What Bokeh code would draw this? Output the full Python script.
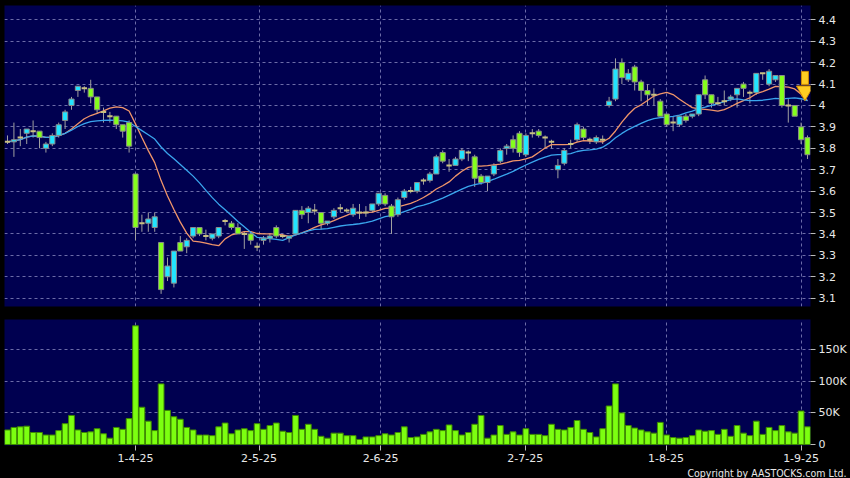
import numpy as np
import pandas as pd
from bokeh.plotting import figure
from bokeh.layouts import column
from bokeh.models import (ColumnDataSource, FixedTicker, Title, Range1d,
                          CustomJSTickFormatter, GlobalInlineStyleSheet)
from bokeh.embed import file_html
from bokeh.resources import INLINE

# ---------------- data ----------------
opens = [3.83, 3.83, 3.85, 3.87, 3.88, 3.88, 3.80, 3.82, 3.86, 3.93,
         4.00, 4.07, 4.08, 4.08, 4.04, 3.97, 3.95, 3.95, 3.91, 3.92,
         3.68, 3.45, 3.45, 3.43, 3.36, 3.20, 3.17, 3.36, 3.34, 3.39,
         3.43, 3.39, 3.38, 3.39, 3.46, 3.45, 3.43, 3.40, 3.40, 3.34,
         3.37, 3.38, 3.43, 3.39, 3.38, 3.40, 3.51, 3.50, 3.51, 3.50,
         3.45, 3.48, 3.52, 3.51, 3.49, 3.50, 3.50, 3.51, 3.54, 3.58,
         3.53, 3.49, 3.57, 3.60, 3.60, 3.65, 3.65, 3.68, 3.78, 3.72,
         3.72, 3.75, 3.78, 3.76, 3.67, 3.64, 3.68, 3.74, 3.80, 3.84,
         3.87, 3.77, 3.87, 3.88, 3.85, 3.83, 3.70, 3.73, 3.82, 3.84,
         3.89, 3.84, 3.83, 3.84, 4.00, 4.03, 4.20, 4.12, 4.18, 4.11,
         4.07, 4.05, 4.02, 3.96, 3.92, 3.91, 3.95, 3.95, 3.96, 4.12,
         4.05, 4.01, 4.02, 4.03, 4.05, 4.10, 4.06, 4.06, 4.15, 4.10,
         4.12, 4.14, 4.00, 4.00, 3.90, 3.85]
highs = [3.86, 3.92, 3.89, 3.89, 3.93, 3.88, 3.83, 3.87, 3.92, 3.98,
         4.04, 4.09, 4.09, 4.12, 4.04, 3.99, 3.97, 3.95, 3.91, 3.93,
         3.68, 3.49, 3.50, 3.50, 3.36, 3.29, 3.32, 3.39, 3.38, 3.43,
         3.43, 3.42, 3.40, 3.43, 3.47, 3.46, 3.45, 3.41, 3.41, 3.36,
         3.39, 3.40, 3.44, 3.40, 3.39, 3.51, 3.53, 3.53, 3.54, 3.50,
         3.46, 3.52, 3.54, 3.52, 3.54, 3.54, 3.53, 3.54, 3.59, 3.59,
         3.54, 3.57, 3.61, 3.62, 3.64, 3.66, 3.69, 3.77, 3.79, 3.75,
         3.76, 3.80, 3.79, 3.77, 3.68, 3.67, 3.73, 3.80, 3.82, 3.86,
         3.88, 3.87, 3.89, 3.89, 3.86, 3.84, 3.75, 3.80, 3.84, 3.92,
         3.90, 3.85, 3.86, 3.86, 4.04, 4.22, 4.22, 4.17, 4.19, 4.12,
         4.10, 4.08, 4.03, 3.96, 3.95, 3.95, 3.96, 3.96, 4.05, 4.14,
         4.05, 4.04, 4.07, 4.05, 4.08, 4.11, 4.07, 4.15, 4.15, 4.17,
         4.14, 4.14, 4.03, 4.00, 3.92, 3.86]
lows = [3.82, 3.76, 3.81, 3.82, 3.85, 3.80, 3.78, 3.81, 3.85, 3.89,
        3.98, 4.04, 4.06, 4.01, 3.96, 3.92, 3.92, 3.89, 3.85, 3.78,
        3.37, 3.41, 3.41, 3.41, 3.12, 3.18, 3.15, 3.32, 3.31, 3.38,
        3.39, 3.37, 3.37, 3.38, 3.44, 3.42, 3.40, 3.33, 3.35, 3.32,
        3.35, 3.36, 3.38, 3.38, 3.36, 3.40, 3.47, 3.45, 3.49, 3.42,
        3.44, 3.47, 3.50, 3.50, 3.48, 3.47, 3.48, 3.50, 3.53, 3.53,
        3.40, 3.48, 3.56, 3.59, 3.59, 3.63, 3.64, 3.68, 3.73, 3.69,
        3.72, 3.74, 3.74, 3.62, 3.63, 3.60, 3.67, 3.73, 3.77, 3.78,
        3.76, 3.76, 3.85, 3.85, 3.80, 3.80, 3.66, 3.72, 3.80, 3.83,
        3.84, 3.82, 3.82, 3.82, 3.99, 4.02, 4.10, 4.11, 4.07, 4.02,
        4.00, 4.00, 3.95, 3.90, 3.88, 3.90, 3.92, 3.94, 3.95, 4.03,
        3.99, 4.00, 4.00, 4.02, 3.99, 4.04, 4.01, 4.05, 4.12, 4.09,
        4.11, 3.99, 3.92, 3.95, 3.82, 3.75]
closes = [3.83, 3.84, 3.85, 3.89, 3.88, 3.85, 3.82, 3.86, 3.91, 3.97,
          4.03, 4.09, 4.08, 4.04, 3.98, 3.97, 3.95, 3.91, 3.88, 3.81,
          3.43, 3.45, 3.47, 3.48, 3.14, 3.25, 3.32, 3.32, 3.37, 3.43,
          3.40, 3.39, 3.40, 3.43, 3.46, 3.43, 3.40, 3.40, 3.37, 3.34,
          3.38, 3.39, 3.39, 3.39, 3.39, 3.51, 3.49, 3.52, 3.51, 3.45,
          3.46, 3.51, 3.52, 3.51, 3.52, 3.50, 3.50, 3.54, 3.59, 3.54,
          3.48, 3.56, 3.60, 3.60, 3.64, 3.65, 3.68, 3.76, 3.74, 3.72,
          3.75, 3.79, 3.78, 3.66, 3.64, 3.67, 3.72, 3.79, 3.81, 3.80,
          3.78, 3.86, 3.87, 3.86, 3.85, 3.83, 3.72, 3.79, 3.82, 3.91,
          3.85, 3.84, 3.85, 3.84, 4.02, 4.17, 4.13, 4.15, 4.11, 4.07,
          4.05, 4.05, 3.95, 3.91, 3.92, 3.95, 3.93, 3.96, 4.05, 4.05,
          4.01, 4.01, 4.02, 4.04, 4.08, 4.08, 4.06, 4.15, 4.15, 4.16,
          4.14, 4.00, 4.00, 3.95, 3.84, 3.77]
volumes = [23, 27, 28, 29, 19, 19, 15, 15, 22, 33, 46, 23, 19, 20, 25, 17, 10, 27, 24, 41,
           188, 59, 37, 22, 96, 54, 44, 40, 27, 23, 15, 15, 14, 28, 34, 17, 23, 25, 22, 33,
           24, 30, 34, 21, 19, 46, 24, 32, 24, 13, 10, 18, 18, 14, 14, 8, 12, 12, 14, 17,
           15, 19, 28, 11, 12, 16, 20, 24, 22, 31, 22, 15, 19, 32, 46, 10, 15, 30, 16, 20,
           15, 25, 16, 16, 14, 32, 24, 23, 27, 38, 24, 19, 12, 25, 61, 96, 50, 30, 26, 23,
           20, 18, 35, 15, 11, 10, 11, 14, 23, 21, 22, 16, 24, 13, 30, 18, 14, 37, 16, 27,
           22, 30, 20, 18, 53, 28]  # thousands of shares

date_ticks = [20, 39.3, 58.3, 80.9, 102.9, 124]
date_labels = ["1-4-25", "2-5-25", "2-6-25", "2-7-25", "1-8-25", "1-9-25"]
price_ticks = [3.1, 3.2, 3.3, 3.4, 3.5, 3.6, 3.7, 3.8, 3.9, 4.0, 4.1, 4.2, 4.3, 4.4]
price_labels = ["3.1", "3.2", "3.3", "3.4", "3.5", "3.6", "3.7", "3.8", "3.9", "4",
                "4.1", "4.2", "4.3", "4.4"]
vol_ticks = [0, 50000, 100000, 150000]
vol_labels = ["0", "50K", "100K", "150K"]
signal_index = [124.6]
signal_price = [4.04]
copyright_text = "Copyright by AASTOCKS.com Ltd."

# ---------------- derived ----------------
n = len(closes)
idx = np.arange(n)
o = np.array(opens); c = np.array(closes)
h = np.array(highs); l = np.array(lows)
vol = np.array(volumes) * 1000
ma10 = pd.Series(c).rolling(10, min_periods=1).mean().values
ma20 = pd.Series(c).rolling(20, min_periods=1).mean().values

UP = "#22e4ff"; DOWN = "#84ff1c"; DOJI = "#c8c080"
BG = "#000050"; GRID = "#6c6ca8"; TXT = "#e8e8e8"; FONT = "DejaVu Sans"

up = c > o; down = c < o; flat = c == o
body_top = np.maximum(o, c); body_bot = np.minimum(o, c)

def fmt(ticks, labels):
    return CustomJSTickFormatter(args=dict(t=ticks, s=labels), code="""
        for (let i = 0; i < t.length; i++) { if (Math.abs(t[i] - tick) < 1e-6) return s[i]; }
        return "";""")

xr = Range1d(-0.47, n - 0.53)

# ---------------- price panel ----------------
p = figure(width=850, height=312, x_range=xr, y_range=Range1d(3.061, 4.467),
           y_axis_location="right", output_backend="svg", toolbar_location=None,
           min_border_left=4, min_border_right=40, min_border_top=5, min_border_bottom=6,
           background_fill_color=BG, border_fill_color="black", outline_line_color=None)
p.xaxis.visible = False
p.xgrid.ticker = FixedTicker(ticks=date_ticks)
p.yaxis.ticker = FixedTicker(ticks=price_ticks)
p.ygrid.ticker = FixedTicker(ticks=price_ticks)
p.yaxis.formatter = fmt(price_ticks, price_labels)
for g in (p.xgrid, p.ygrid):
    g.grid_line_color = GRID
    g.grid_line_dash = "3 3"
    g.grid_line_width = 1
ax = p.yaxis[0]
ax.axis_line_color = None
ax.major_tick_line_color = "#bbbbbb"
ax.major_tick_out = 5
ax.major_tick_in = 0
ax.minor_tick_line_color = None
ax.major_label_text_color = TXT
ax.major_label_text_font = FONT
ax.major_label_text_font_size = "11px"
ax.major_label_standoff = 3

# wicks
p.segment(x0=idx, y0=l, x1=idx, y1=h, line_color="#a0a0a0", line_width=1)
# moving averages
p.line(idx, ma10, line_color="#f0956a", line_width=1.3)
p.line(idx, ma20, line_color="#3aa6ee", line_width=1.3)
# bodies
src_up = ColumnDataSource(dict(x=idx[up], top=body_top[up], bottom=body_bot[up]))
src_dn = ColumnDataSource(dict(x=idx[down], top=body_top[down], bottom=body_bot[down]))
p.vbar(x="x", top="top", bottom="bottom", width=0.8, source=src_up,
       fill_color=UP, line_color="#8a8a8a", line_width=1)
p.vbar(x="x", top="top", bottom="bottom", width=0.8, source=src_dn,
       fill_color=DOWN, line_color="#8a8a8a", line_width=1)
p.segment(x0=idx[flat] - 0.42, y0=c[flat], x1=idx[flat] + 0.42, y1=c[flat],
          line_color=DOJI, line_width=2)

# signal arrow (down)
px_per_unit = 301 / (4.467 - 3.061)
sx = np.array(signal_index); sy = np.array(signal_price)
p.rect(x=sx, y=sy + 19 / px_per_unit, width=7, height=13, width_units="screen",
       height_units="screen", fill_color="#ffcc22", line_color="#d08a00", line_width=1)
p.scatter(x=sx, y=sy + 6 / px_per_unit, marker="inverted_triangle", size=17,
          fill_color="#ffcc22", line_color="#d08a00", line_width=1)

# ---------------- volume panel ----------------
v = figure(width=850, height=166, x_range=xr, y_range=Range1d(-1600, 198000),
           y_axis_location="right", output_backend="svg", toolbar_location=None,
           min_border_left=4, min_border_right=40, min_border_top=7, min_border_bottom=33,
           background_fill_color=BG, border_fill_color="black", outline_line_color=None)
v.vbar(x=idx, top=vol, bottom=0, width=0.9, fill_color="#7cff10",
       line_color="#3f8a00", line_width=1)
v.xaxis.ticker = FixedTicker(ticks=date_ticks)
v.xaxis.formatter = fmt(date_ticks, date_labels)
v.xgrid.ticker = FixedTicker(ticks=date_ticks)
v.yaxis.ticker = FixedTicker(ticks=vol_ticks)
v.ygrid.ticker = FixedTicker(ticks=vol_ticks[1:])
v.yaxis.formatter = fmt(vol_ticks, vol_labels)
for g in (v.xgrid, v.ygrid):
    g.grid_line_color = GRID
    g.grid_line_dash = "3 3"
    g.grid_line_width = 1
for a in (v.xaxis[0], v.yaxis[0]):
    a.axis_line_color = None
    a.major_tick_line_color = "#bbbbbb"
    a.major_tick_out = 5
    a.major_tick_in = 0
    a.minor_tick_line_color = None
    a.major_label_text_color = TXT
    a.major_label_text_font = FONT
    a.major_label_text_font_size = "11px"
    a.major_label_standoff = 3
v.add_layout(Title(text=copyright_text, align="right", text_color=TXT,
                   text_font="DejaVu Sans Condensed", text_font_size="10.5px",
                   text_font_style="normal", standoff=0, offset=-36), "below")

layout = column(p, v, spacing=0, background="black")
layout.stylesheets = [GlobalInlineStyleSheet(css="html, body { margin: 0 !important; padding: 0; background: #000; }")]

open("out.html", "w").write(file_html(layout, INLINE))
